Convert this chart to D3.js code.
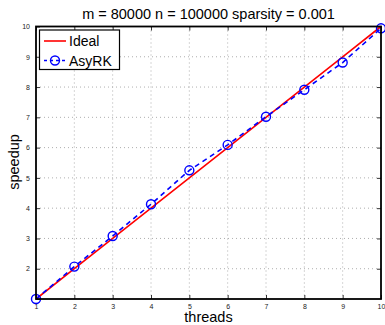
<!DOCTYPE html>
<html>
<head>
<meta charset="utf-8">
<script src="https://cdn.jsdelivr.net/npm/d3@7"></script>
<style>
  body { margin: 0; background: #fff; }
  svg { font-family: "Liberation Sans", Arial, sans-serif; }
</style>
</head>
<body>
<svg width="385" height="325"></svg>
<script>
var threads = [1, 2, 3, 4, 5, 6, 7, 8, 9, 10];
var ideal = [1, 2, 3, 4, 5, 6, 7, 8, 9, 10];
var asyrk = [1, 2.07, 3.08, 4.13, 5.25, 6.09, 7.02, 7.91, 8.81, 9.94];
var xTicks = [1, 2, 3, 4, 5, 6, 7, 8, 9, 10];
var yTicks = [2, 3, 4, 5, 6, 7, 8, 9, 10];

var svg = d3.select('svg'),
    pLeft = 36, pRight = 381, pTop = 26.5, pBottom = 299;

var x = d3.scaleLinear().domain([1, 10]).range([pLeft, pRight]);
var y = d3.scaleLinear().domain([1, 10]).range([pBottom, pTop]);

// grid
svg.append('g').selectAll('line')
    .data(xTicks.slice(1, -1))
  .enter().append('line')
    .attr('x1', function(d){ return x(d); })
    .attr('x2', function(d){ return x(d); })
    .attr('y1', pTop).attr('y2', pBottom)
    .attr('stroke', '#999').attr('stroke-width', 0.8)
    .attr('stroke-dasharray', '1,3');
svg.append('g').selectAll('line')
    .data(yTicks.slice(0, -1))
  .enter().append('line')
    .attr('y1', function(d){ return y(d); })
    .attr('y2', function(d){ return y(d); })
    .attr('x1', pLeft).attr('x2', pRight)
    .attr('stroke', '#999').attr('stroke-width', 0.8)
    .attr('stroke-dasharray', '1,3');

// axes, ticks inside
var xb = svg.append('g').attr('transform', 'translate(0,' + pBottom + ')')
    .call(d3.axisBottom(x).tickValues(xTicks).tickSize(-4).tickPadding(6).tickFormat(d3.format('d')));
var xt = svg.append('g').attr('transform', 'translate(0,' + pTop + ')')
    .call(d3.axisTop(x).tickValues(xTicks).tickSize(-4).tickFormat(''));
var yl = svg.append('g').attr('transform', 'translate(' + pLeft + ',0)')
    .call(d3.axisLeft(y).tickValues([1].concat(yTicks)).tickSize(-4).tickPadding(6).tickFormat(function(d){ return d == 1 ? '' : d; }));
var yr = svg.append('g').attr('transform', 'translate(' + pRight + ',0)')
    .call(d3.axisRight(y).tickValues(yTicks).tickSize(-4).tickFormat(''));
[xb, xt, yl, yr].forEach(function(g) {
  g.select('.domain').remove();
  g.selectAll('line').attr('stroke', '#000').attr('stroke-width', 0.8);
  g.selectAll('text').attr('font-size', 7).attr('fill', '#222')
    .attr('font-family', '"Liberation Sans", Arial, sans-serif');
});
xb.selectAll('text').attr('dy', '0.5em');

var line = d3.line()
    .x(function(d, i){ return x(threads[i]); })
    .y(function(d){ return y(d); });

svg.append('path').datum(ideal)
    .attr('d', line).attr('fill', 'none')
    .attr('stroke', '#f00').attr('stroke-width', 1.6);
svg.append('path').datum(asyrk)
    .attr('d', line).attr('fill', 'none')
    .attr('stroke', '#00f').attr('stroke-width', 1.6)
    .attr('stroke-dasharray', '5,4');
svg.append('g').selectAll('circle')
    .data(asyrk)
  .enter().append('circle')
    .attr('cx', function(d, i){ return x(threads[i]); })
    .attr('cy', function(d){ return y(d); })
    .attr('r', 4.5)
    .attr('fill', 'none').attr('stroke', '#00f').attr('stroke-width', 1.4);

// frame
svg.append('rect')
    .attr('x', pLeft).attr('y', pTop)
    .attr('width', pRight - pLeft).attr('height', pBottom - pTop)
    .attr('fill', 'none').attr('stroke', '#000').attr('stroke-width', 1.8);

// legend
var lg = svg.append('g');
lg.append('rect').attr('x', 39.5).attr('y', 30).attr('width', 80).attr('height', 39.5)
    .attr('fill', '#fff').attr('stroke', '#000').attr('stroke-width', 1.2);
lg.append('line').attr('x1', 44).attr('x2', 66).attr('y1', 41).attr('y2', 41)
    .attr('stroke', '#f00').attr('stroke-width', 1.6);
lg.append('line').attr('x1', 44).attr('x2', 66).attr('y1', 60.5).attr('y2', 60.5)
    .attr('stroke', '#00f').attr('stroke-width', 1.6).attr('stroke-dasharray', '3,3');
lg.append('circle').attr('cx', 55).attr('cy', 60.5).attr('r', 4.5)
    .attr('fill', 'none').attr('stroke', '#00f').attr('stroke-width', 1.4);
lg.append('text').attr('x', 69).attr('y', 46).attr('font-size', 14).text('Ideal');
lg.append('text').attr('x', 69).attr('y', 65.5).attr('font-size', 14).text('AsyRK');

// title and labels
svg.append('text').attr('x', 208.5).attr('y', 18.5).attr('text-anchor', 'middle')
    .attr('font-size', 14.5).text('m = 80000 n = 100000 sparsity = 0.001');
svg.append('text').attr('x', 208.5).attr('y', 322).attr('text-anchor', 'middle')
    .attr('font-size', 14.5).text('threads');
svg.append('text').attr('transform', 'translate(19,162) rotate(-90)').attr('text-anchor', 'middle')
    .attr('font-size', 14.5).text('speedup');
</script>
</body>
</html>
